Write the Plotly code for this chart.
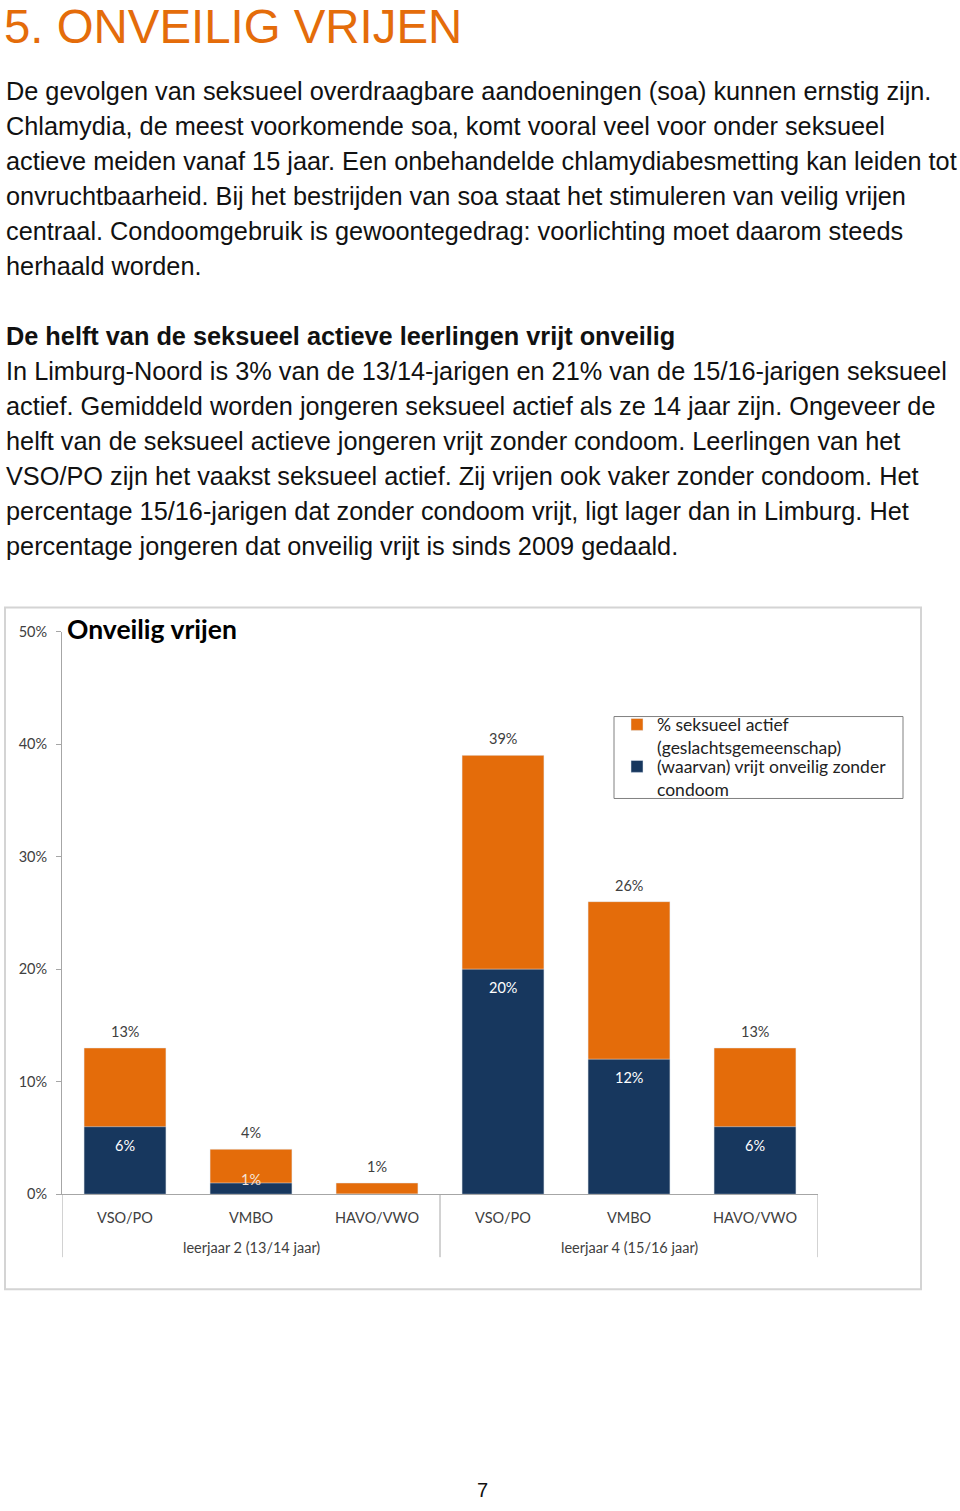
import plotly.graph_objects as go

# ---------------- data ----------------
group_names = ["leerjaar 2 (13/14 jaar)", "leerjaar 4 (15/16 jaar)"]
groups = ["leerjaar 2 (13/14 jaar)"] * 3 + ["leerjaar 4 (15/16 jaar)"] * 3
schools = ["VSO/PO", "VMBO", "HAVO/VWO", "VSO/PO", "VMBO", "HAVO/VWO"]
actief = [13, 4, 1, 39, 26, 13]          # % seksueel actief
onveilig = [6, 1, 0, 20, 12, 6]          # (waarvan) vrijt onveilig zonder condoom
y_ticks = [0, 10, 20, 30, 40, 50]

name_actief = "% seksueel actief<br>(geslachtsgemeenschap)"
name_onveilig = "(waarvan) vrijt onveilig zonder<br>condoom"

page_title = "5. ONVEILIG VRIJEN"
chart_title = "Onveilig vrijen"
para1 = [
    "De gevolgen van seksueel overdraagbare aandoeningen (soa) kunnen ernstig zijn.",
    "Chlamydia, de meest voorkomende soa, komt vooral veel voor onder seksueel",
    "actieve meiden vanaf 15 jaar. Een onbehandelde chlamydiabesmetting kan leiden tot",
    "onvruchtbaarheid. Bij het bestrijden van soa staat het stimuleren van veilig vrijen",
    "centraal. Condoomgebruik is gewoontegedrag: voorlichting moet daarom steeds",
    "herhaald worden.",
]
subheading = "De helft van de seksueel actieve leerlingen vrijt onveilig"
para2 = [
    "In Limburg-Noord is 3% van de 13/14-jarigen en 21% van de 15/16-jarigen seksueel",
    "actief. Gemiddeld worden jongeren seksueel actief als ze 14 jaar zijn. Ongeveer de",
    "helft van de seksueel actieve jongeren vrijt zonder condoom. Leerlingen van het",
    "VSO/PO zijn het vaakst seksueel actief. Zij vrijen ook vaker zonder condoom. Het",
    "percentage 15/16-jarigen dat zonder condoom vrijt, ligt lager dan in Limburg. Het",
    "percentage jongeren dat onveilig vrijt is sinds 2009 gedaald.",
]
page_number = "7"

# ---------------- styling ----------------
W, H = 960, 1511
ORANGE = "#E46C0A"
NAVY = "#17375E"
CHART_FONT = "Lato"
PAGE_FONT = "Liberation Sans"
AX = "#a6a6a6"
# the photographed page is slightly taller than the window; compensate
Y_OFF, Y_SCALE = 7.0, 0.9894


def py(pix):
    """target screen pixel (from top) -> paper y"""
    return 1 - ((pix - Y_OFF) / Y_SCALE) / H


def px(pix):
    return pix / W


idx = list(range(len(schools)))

fig = go.Figure()
fig.add_trace(go.Bar(x=idx, y=actief, name=name_actief, marker_color=ORANGE,
                     legend="legend"))
fig.add_trace(go.Bar(x=idx, y=onveilig, name=name_onveilig, marker_color=NAVY,
                     legend="legend2"))

leg_common = dict(xanchor="left", yanchor="top", borderwidth=0,
                  bgcolor="rgba(0,0,0,0)", valign="top", itemwidth=30,
                  font=dict(family=CHART_FONT, size=17.5, color="#222222"))

fig.update_layout(
    width=W, height=H,
    margin=dict(l=0, r=0, t=0, b=0),
    paper_bgcolor="white", plot_bgcolor="white",
    barmode="overlay", bargap=0.35,
    font=dict(family=CHART_FONT, size=14.5, color="#404040"),
    legend=dict(x=px(617), y=py(705), **leg_common),
    legend2=dict(x=px(617), y=py(747), **leg_common),
    xaxis=dict(
        domain=[px(62), px(818)], range=[-0.5, len(schools) - 0.5],
        tickvals=idx, ticktext=schools,
        showline=True, linecolor=AX, linewidth=1,
        ticks="", ticklabelstandoff=10, showgrid=False, zeroline=False,
        tickfont=dict(family=CHART_FONT, size=14.5, color="#404040"),
    ),
    yaxis=dict(
        domain=[py(1193), py(630)],
        range=[0, 50], tickvals=y_ticks, ticktext=[f"{v}%" for v in y_ticks],
        showline=True, linecolor=AX, linewidth=1,
        ticks="outside", ticklen=5, tickcolor=AX,
        showgrid=False, zeroline=False, ticklabelstandoff=6,
        tickfont=dict(family=CHART_FONT, size=14.5, color="#404040"),
    ),
    showlegend=True,
)

# chart border
fig.add_shape(type="rect", xref="paper", yref="paper",
              x0=px(5), x1=px(921), y0=py(1288), y1=py(606),
              line=dict(color="#d4d4d4", width=2), fillcolor="rgba(0,0,0,0)",
              layer="below")
# legend box
fig.add_shape(type="rect", xref="paper", yref="paper",
              x0=px(614), x1=px(903), y0=py(797), y1=py(715),
              line=dict(color="#808080", width=1), fillcolor="white",
              layer="below")

# group dividers and group labels (multi-level category axis)
start = 0
bounds = [-0.5]
for g in group_names:
    n = groups.count(g)
    bounds.append(start + n - 0.5)
    start += n
for b in bounds:
    fig.add_shape(type="line", xref="x", yref="paper", x0=b, x1=b,
                  y0=py(1256), y1=py(1193), line=dict(color=AX, width=1))

ann = []
start = 0
for g in group_names:
    n = groups.count(g)
    ann.append(dict(text=g, xref="x", yref="paper", x=start + (n - 1) / 2, y=py(1246),
                    xanchor="center", yanchor="middle",
                    font=dict(family=CHART_FONT, size=14.5, color="#404040")))
    start += n

# data labels
for i, (a, o) in enumerate(zip(actief, onveilig)):
    ann.append(dict(text=f"{a}%", xref="x", yref="y", x=i, y=a, yanchor="bottom", yshift=6,
                    font=dict(family=CHART_FONT, size=14.5, color="#404040")))
    if o > 0:
        if o >= 3:
            ann.append(dict(text=f"{o}%", xref="x", yref="y", x=i, y=o, yanchor="top", yshift=-8,
                            font=dict(family=CHART_FONT, size=14.5, color="white")))
        else:
            ann.append(dict(text=f"{o}%", xref="x", yref="y", x=i, y=0, yanchor="bottom", yshift=4,
                            font=dict(family=CHART_FONT, size=14.5, color="#f4e4d8")))

ann.append(dict(text=page_title, x=px(2), y=py(25), xanchor="left", yanchor="middle",
                font=dict(family=PAGE_FONT, size=47.4, color=ORANGE)))
for i, line in enumerate(para1):
    ann.append(dict(text=line, x=px(4), y=py(89 + 35 * i), xanchor="left", yanchor="middle",
                    font=dict(family=PAGE_FONT, size=25.3, color="#111111")))
ann.append(dict(text=f"<b>{subheading}</b>", x=px(4), y=py(334), xanchor="left", yanchor="middle",
                font=dict(family=PAGE_FONT, size=25.3, color="#111111")))
for i, line in enumerate(para2):
    ann.append(dict(text=line, x=px(4), y=py(369 + 35 * i), xanchor="left", yanchor="middle",
                    font=dict(family=PAGE_FONT, size=25.3, color="#111111")))
ann.append(dict(text=f"<b>{chart_title}</b>", x=px(65), y=py(627), xanchor="left", yanchor="middle",
                font=dict(family=CHART_FONT, size=26.5, color="#000000")))
ann.append(dict(text=page_number, x=px(482), y=0, xanchor="center", yanchor="bottom",
                font=dict(family=PAGE_FONT, size=20, color="#111111")))
for a in ann:
    a.setdefault("xref", "paper")
    a.setdefault("yref", "paper")
    a["showarrow"] = False
fig.update_layout(annotations=ann)

fig.write_html("out.html", config={"displayModeBar": False},
               post_script="document.body.style.margin='0px';")
